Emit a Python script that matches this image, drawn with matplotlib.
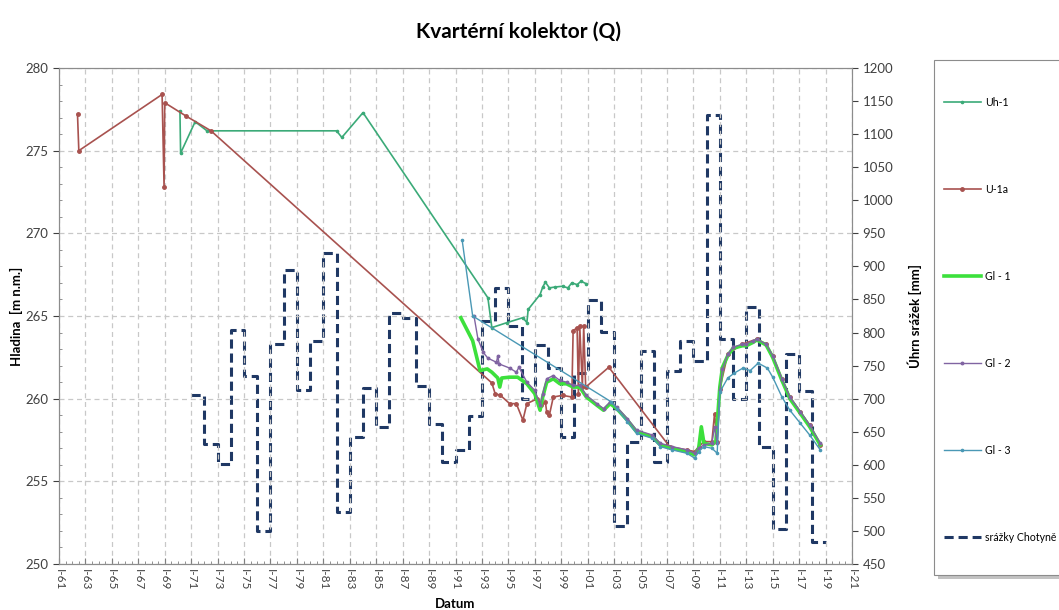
import matplotlib
matplotlib.use("Agg")
import matplotlib.pyplot as plt
from matplotlib.patches import Rectangle
from matplotlib.ticker import MultipleLocator, FixedLocator

plt.rcParams['font.family'] = ['Lato', 'DejaVu Sans']

# annual precipitation, Chotyně [mm]
precip_years = list(range(1971, 2019))
precip_mm = [705, 631, 601, 804, 734, 500, 783, 895, 713, 787,
             920, 529, 642, 716, 657, 830, 822, 719, 662, 604,
             622, 674, 817, 867, 810, 699, 781, 746, 642, 739,
             849, 801, 507, 634, 772, 604, 742, 787, 757, 1129,
             790, 699, 839, 627, 503, 767, 712, 483]

uh1_t = [1970.15, 1970.2, 1971.3, 1972.2, 1982.0, 1982.4, 1984.0, 1993.45, 1993.75,
         1994.9, 1996.1, 1996.4, 1996.5, 1997.4, 1997.6, 1997.8, 1998.1, 1998.5,
         1999.1, 1999.5, 1999.8, 2000.2, 2000.5, 2000.9]
uh1_h = [277.4, 274.85, 276.75, 276.2, 276.2, 275.8, 277.3, 266.1, 264.3,
         264.6, 264.9, 264.6, 265.4, 266.3, 266.75, 267.05, 266.7, 266.75,
         266.8, 266.7, 267.0, 266.9, 267.1, 266.95]

u1a_t = [1962.4, 1962.5, 1968.8, 1968.95, 1969.0, 1970.6, 1972.5, 1993.75, 1994.0,
         1994.4, 1995.1, 1995.6, 1996.1, 1996.4, 1997.2, 1997.5, 1997.8, 1997.9,
         1998.1, 1998.4, 1999.1, 1999.8, 1999.9, 2000.2, 2000.3, 2000.4, 2000.6,
         2000.7, 2000.85, 2002.6, 2007.2, 2008.5, 2009.1, 2009.4, 2009.8, 2010.4,
         2010.6, 2010.8, 2011.0, 2011.6, 2012.7, 2013.8, 2014.5, 2015.0, 2015.7,
         2016.3, 2017.1, 2017.8, 2018.6]
u1a_h = [277.2, 275.0, 278.4, 272.8, 277.9, 277.1, 276.2, 260.95, 260.3,
         260.2, 259.7, 259.7, 258.7, 259.7, 260.0, 259.6, 259.8, 259.2,
         259.0, 260.1, 260.2, 260.1, 264.1, 264.3, 260.3, 264.4, 260.7,
         264.4, 260.7, 261.9, 257.1, 256.9, 256.8, 257.1, 257.4, 257.4,
         259.1, 257.4, 260.6, 262.7, 263.3, 263.6, 263.3, 262.6, 261.2,
         260.1, 259.2, 258.4, 257.2]

gl1_t = [1991.4, 1992.3, 1992.7, 1992.85, 1993.4, 1993.75, 1994.2, 1994.35, 1994.5,
         1995.1, 1995.7, 1996.4, 1997.0, 1997.4, 1997.6, 1997.9, 1998.4, 1998.9,
         1999.4, 1999.9, 2000.4, 2000.9, 2001.7, 2002.2, 2002.7, 2003.2, 2004.0,
         2004.7, 2005.9, 2006.5, 2007.4, 2008.5, 2009.1, 2009.4, 2009.6, 2009.8,
         2010.4, 2010.7, 2011.0, 2011.2, 2011.6, 2012.0, 2012.7, 2013.0, 2013.5,
         2013.8, 2014.5, 2015.0, 2015.7, 2016.3, 2017.1, 2017.8, 2018.6]
gl1_h = [264.9, 263.5, 262.2, 261.7, 261.8, 261.6, 261.25, 260.7, 261.25,
         261.3, 261.3, 260.9, 260.3, 259.3, 260.1, 261.0, 261.2, 260.9,
         260.9, 260.7, 260.7, 260.1, 259.6, 259.3, 259.7, 259.4, 258.7,
         258.0, 257.7, 257.2, 257.0, 256.8, 256.6, 257.0, 258.3, 257.3,
         257.2, 257.4, 260.7, 261.9, 262.6, 263.05, 263.2, 263.2, 263.4,
         263.55, 263.25, 262.5, 261.1, 260.0, 259.1, 258.3, 257.2]

gl2_t = [1992.4, 1992.7, 1993.1, 1993.45, 1994.1, 1994.2, 1994.3, 1995.1, 1995.6,
         1995.8, 1996.4, 1997.0, 1997.4, 1997.6, 1997.9, 1998.4, 1998.9, 1999.4,
         1999.9, 2000.4, 2000.9, 2001.7, 2002.2, 2002.7, 2003.2, 2004.0, 2004.7,
         2005.9, 2006.5, 2007.4, 2008.5, 2009.1, 2009.4, 2009.8, 2010.4, 2010.6,
         2010.8, 2011.0, 2011.2, 2011.6, 2012.0, 2012.7, 2013.0, 2013.5, 2013.8,
         2014.5, 2015.0, 2015.7, 2016.3, 2017.1, 2017.8, 2018.6]
gl2_h = [265.0, 263.6, 262.8, 262.45, 262.2, 262.6, 262.1, 261.85, 261.6,
         261.9, 261.0, 260.5, 259.6, 260.3, 261.2, 261.4, 261.1, 261.0,
         260.8, 260.8, 260.2, 259.7, 259.4, 259.8, 259.5, 258.8, 258.1,
         257.8, 257.3, 257.1, 256.9, 256.7, 257.0, 257.2, 257.3, 258.3,
         257.3, 260.5, 261.8, 262.7, 263.1, 263.3, 263.3, 263.5, 263.6,
         263.3, 262.6, 261.2, 260.1, 259.2, 258.4, 257.3]

gl3_t = [1991.5, 1992.3, 2002.8, 2003.2, 2004.0, 2004.7, 2005.9, 2006.5, 2007.4,
         2008.5, 2009.1, 2009.4, 2009.8, 2010.4, 2010.8, 2011.0, 2011.6, 2012.1,
         2012.75, 2013.3, 2013.9, 2014.6, 2015.0, 2015.7, 2016.3, 2017.1, 2017.8,
         2018.6]
gl3_h = [269.6, 265.0, 259.8, 259.4, 258.6, 257.9, 257.6, 257.1, 256.9,
         256.7, 256.4, 256.8, 257.1, 257.0, 256.7, 260.4, 261.25, 261.55,
         261.85, 261.7, 262.15, 261.85, 261.3, 260.1, 259.3, 258.5, 257.8,
         256.9]

x_labels = ["I-%02d" % (y % 100) for y in range(1961, 2022, 2)]

W, H = 1059, 610
fig = plt.figure(figsize=(W / 100, H / 100), dpi=100)
ax = fig.add_axes([59 / W, 46 / H, 793 / W, 496 / H])
ax2 = ax.twinx()
ax.set_zorder(ax2.get_zorder() + 1)
ax.patch.set_visible(False)

# precipitation steps (extend last year to its end)
ln_p, = ax2.step(precip_years + [2019], precip_mm + [precip_mm[-1]], where='post',
                 color='#1F3864', lw=2.2, ls=(0, (3, 1.6)), label='srážky Chotyně')

ln1, = ax.plot(uh1_t, uh1_h, color='#3BAA78', lw=1.2, marker='o', ms=1.6, label='Uh-1')
ln2, = ax.plot(u1a_t, u1a_h, color='#A8524F', lw=1.2, marker='o', ms=2.5, label='U-1a')
ln3, = ax.plot(gl1_t, gl1_h, color='#3CE03C', lw=2.6, label='Gl - 1')
ln4, = ax.plot(gl2_t, gl2_h, color='#8064A2', lw=1.0, marker='o', ms=1.8, label='Gl - 2')
ln5, = ax.plot(gl3_t, gl3_h, color='#4A98B5', lw=1.0, marker='o', ms=1.6, label='Gl - 3')

ax.set_xlim(1961, 2021)
ax.set_ylim(250, 280)
ax2.set_ylim(450, 1200)

ax.xaxis.set_major_locator(FixedLocator(list(range(1961, 2022, 2))))
ax.set_xticklabels(x_labels, rotation=-90, fontsize=8.5, color='#404040')
ax.xaxis.set_minor_locator(MultipleLocator(0.5))
ax.yaxis.set_major_locator(MultipleLocator(5))
ax.yaxis.set_minor_locator(MultipleLocator(1))
ax2.yaxis.set_major_locator(MultipleLocator(50))

ax.tick_params(axis='y', labelsize=9.5, colors='#404040', length=4, direction='out')
ax2.tick_params(axis='y', labelsize=9.5, colors='#404040', length=4, direction='out')
ax.tick_params(axis='x', which='major', length=4, direction='in', color='#808080')
ax.tick_params(axis='x', which='minor', length=2.5, direction='in', color='#808080')
ax.tick_params(axis='y', which='minor', length=2.5, direction='in', color='#808080')

ax.grid(True, which='major', color='#C8C8C8', ls=(0, (4, 3)), lw=0.9)
for s in ax.spines.values():
    s.set_color('#8C8C8C')
for s in ax2.spines.values():
    s.set_color('#8C8C8C')

ax.set_ylabel('Hladina  [m n.m.]', fontsize=9.5, fontweight='bold', labelpad=2)
ax2.set_ylabel('Úhrn srážek [mm]', fontsize=9.5, fontweight='bold', labelpad=10)
ax.set_xlabel('Datum', fontsize=9.5, fontweight='bold')
ax.xaxis.set_label_coords(0.5, -0.068)

fig.suptitle('Kvartérní kolektor (Q)', fontsize=15, fontweight='bold', x=0.49, y=0.965)

# legend box (runs off the right edge like the original)
fig.patches.append(Rectangle((938 / W, 1 - 579 / H), 140 / W, 515 / H, transform=fig.transFigure,
                             facecolor='#9A9A9A', edgecolor='none', alpha=0.6, zorder=0))
fig.patches.append(Rectangle((934 / W, 1 - 575 / H), 140 / W, 515 / H, transform=fig.transFigure,
                             facecolor='white', edgecolor='#8C8C8C', lw=0.8, zorder=1))
leg = fig.legend(handles=[ln1, ln2, ln3, ln4, ln5, ln_p], loc='upper left',
                 bbox_to_anchor=(944 / W, 1 - 97 / H), fontsize=7.6,
                 labelspacing=7.2, borderpad=0, handlelength=3.5, handletextpad=0.4,
                 frameon=False, borderaxespad=0)

fig.savefig('out.png', dpi=100)
